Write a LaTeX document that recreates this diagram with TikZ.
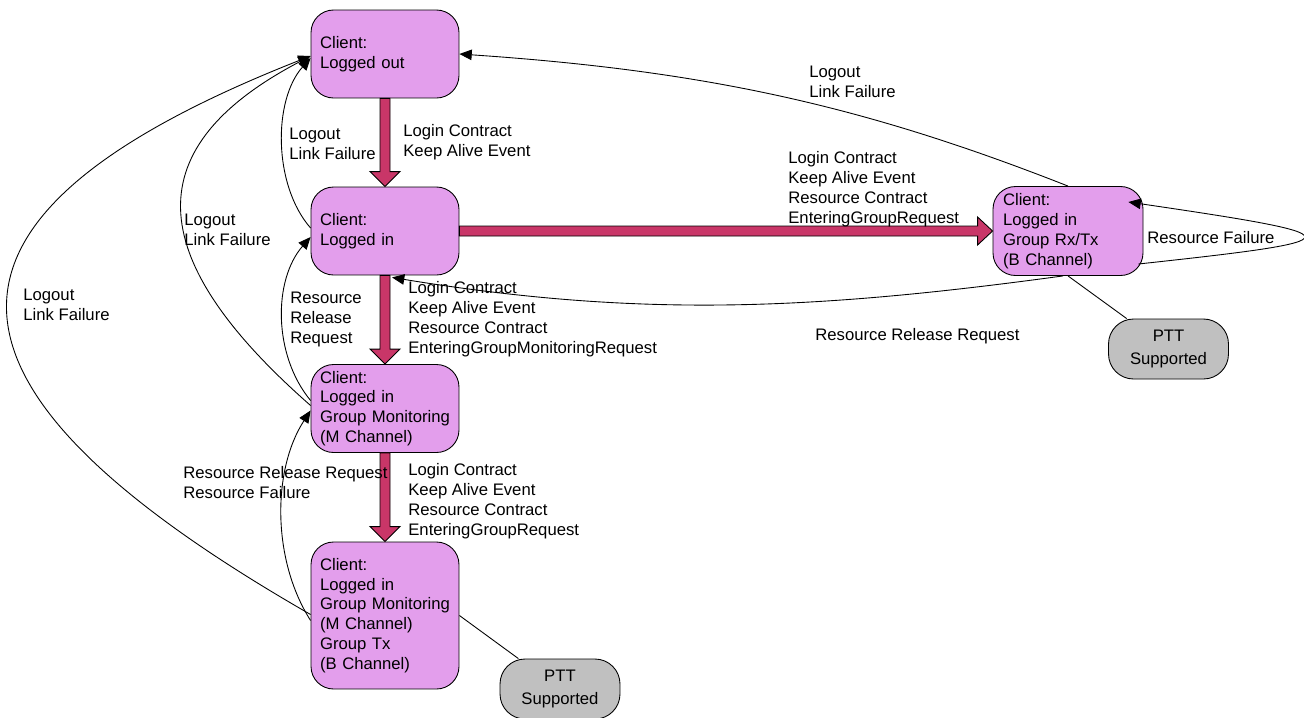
\documentclass[tikz,border=0pt]{standalone}
\usepackage{fontspec}
\setmainfont{Liberation Sans}
\usepackage{tikz}
\usetikzlibrary{calc,arrows.meta}

\definecolor{statefill}{RGB}{227,158,236}
\definecolor{fatred}{RGB}{201,54,104}
\definecolor{pttgrey}{RGB}{192,192,192}

\newcommand{\lbfont}{\fontsize{9.5}{11.3}\selectfont}
\newcommand{\pttfont}{\fontsize{9.5}{12.6}\selectfont}

\tikzset{
  statebox/.style={draw, fill=statefill, line width=0.5pt, rounded corners=0.45cm,
    minimum width=2.96cm, minimum height=1.76cm, text width=2.6cm, inner xsep=0.18cm,
    align=left, font=\lbfont},
  pttbox/.style={draw, fill=pttgrey, line width=0.5pt, rounded corners=0.5cm,
    minimum width=2.4cm, minimum height=1.2cm, align=center, font=\pttfont},
  lbl/.style={anchor=north west, inner sep=0pt, align=left, font=\lbfont},
  trans/.style={-{Triangle[length=7pt,width=6pt]}, line width=0.5pt},
  link/.style={line width=0.5pt},
  fatarrow/.style={draw=black, fill=fatred, line width=0.5pt}
}

% fat arrow going down from #1 to #2
\newcommand{\fatdown}[2]{%
  \draw[fatarrow] ($(#1.south)+(-5,0)$) -- ($(#2.north)+(-5,-15)$) -- ($(#2.north)+(-15,-15)$)
    -- (#2.north) -- ($(#2.north)+(15,-15)$) -- ($(#2.north)+(5,-15)$) -- ($(#1.south)+(5,0)$) -- cycle;}
% fat arrow going right from #1 to #2
\newcommand{\fatright}[2]{%
  \draw[fatarrow] ($(#1.east)+(0,-5)$) -- ($(#2.west)+(-15,-5)$) -- ($(#2.west)+(-15,-14)$)
    -- (#2.west) -- ($(#2.west)+(-15,14)$) -- ($(#2.west)+(-15,5)$) -- ($(#1.east)+(0,5)$) -- cycle;}

\begin{document}
\begin{tikzpicture}[x=0.02cm, y=-0.02cm]
    \useasboundingbox (0,0) rectangle (1304,717);

    % states
    \node[statebox] (loggedout) at (385,54) {Client:\\Logged out};
    \node[statebox] (loggedin) at (385,231) {Client:\\Logged in};
    \node[statebox] (grpmon) at (385,408.5) {Client:\\Logged in\\Group~Monitoring\\(M~Channel)};
    \node[statebox, minimum height=2.94cm] (grptx) at (385,615.5)
        {Client:\\Logged in\\Group~Monitoring\\(M~Channel)\\Group Tx\\(B~Channel)};
    \node[statebox, minimum width=3cm, minimum height=1.78cm] (grprxtx) at (1068,231)
        {Client:\\Logged in\\Group Rx/Tx\\(B~Channel)};
    \node[pttbox] (pttrx) at (1168.5,349) {PTT\\Supported};
    \node[pttbox] (ptttx) at (560,689) {PTT\\Supported};

    % main transitions
    \fatdown{loggedout}{loggedin}
    \fatdown{loggedin}{grpmon}
    \fatdown{grpmon}{grptx}
    \fatright{loggedin}{grprxtx}

    % back transitions
    \draw[trans] ($(loggedin.west)+(0,-3)$) .. controls (273,185) and (273,100) .. ($(loggedout.west)+(0,4)$);
    \draw[trans] ($(grpmon.west)+(0,-3)$) .. controls (139,255) and (139,146) .. ($(loggedout.west)+(0,2)$);
    \draw[trans] ($(grptx.west)+(0,-1)$) .. controls (-93,383) and (-93,215) .. ($(loggedout.west)+(0,2)$);
    \draw[trans] ($(grpmon.west)+(0,-8)$) .. controls (273,355) and (273,280) .. ($(loggedin.west)+(0,6)$);
    \draw[trans] ($(grptx.west)+(0,5)$) .. controls (272,560) and (272,470) .. ($(grpmon.west)+(0,2)$);
    \draw[trans] (grprxtx.north) .. controls (867,107) and (710,71) .. (loggedout.east);
    \draw[trans] ($(grprxtx.south)+(-5,0)$) .. controls (813,310) and (640,318) .. ($(loggedin.south)+(7,2)$);
    \draw[trans] ($(grprxtx.east)+(-5,33)$) .. controls (1360,240) and (1360,236) .. ($(grprxtx.east)+(-15,-29)$); % self loop

    % PTT links
    \draw[link] (grprxtx.south) -- (pttrx);
    \draw[link] (grptx.east) -- (ptttx);

    % labels
    \node[lbl] (lbllogin) at (403,124) {Login Contract\\Keep Alive Event};
    \node[lbl] (lblmon) at (408,281) {Login Contract\\Keep Alive Event\\Resource Contract\\EnteringGroupMonitoringRequest};
    \node[lbl] (lbltx) at (408,463) {Login Contract\\Keep Alive Event\\Resource Contract\\EnteringGroupRequest};
    \node[lbl] (lblrxtx) at (788,151) {Login Contract\\Keep Alive Event\\Resource Contract\\EnteringGroupRequest};
    \node[lbl] (lblout1) at (289,128) {Logout\\Link Failure};
    \node[lbl] (lblout2) at (184,214) {Logout\\Link Failure};
    \node[lbl] (lblout3) at (23,289) {Logout\\Link Failure};
    \node[lbl] (lblrel1) at (290,292) {Resource\\Release\\Request};
    \node[lbl] (lblrel2) at (183,466) {Resource Release Request\\Resource Failure};
    \node[lbl] (lblout4) at (809,66) {Logout\\Link Failure};
    \node[lbl] (lblrel3) at (815,328) {Resource Release Request};
    \node[lbl] (lblfail) at (1147,231) {Resource Failure};
\end{tikzpicture}
\end{document}
